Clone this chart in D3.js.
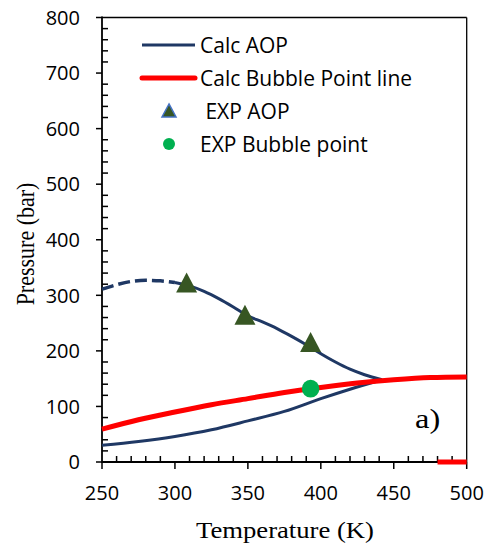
<!DOCTYPE html>
<html><head><meta charset="utf-8">
<script src="https://cdn.jsdelivr.net/npm/d3@7"></script>
<style>body{margin:0;background:#fff}svg{display:block}</style>
</head><body><svg id="c" width="486" height="549"></svg>
<script>
// Data
const aopUpperT = [250,260,270,280,290,300,310,320,330,340,350,360,370,380,390,400,410,420,430,442];
const aopUpperP = [311,319,325,327,326,323,317,307,294,279,263,252,240,226,211,195,180,167,157,148];
const aopLowerT = [250,275,300,325,350,375,400,420,442];
const aopLowerP = [30,37,46,58,74,91,114,131,148];
const bubbleT = [250,275,300,325,350,375,400,425,450,475,500];
const bubbleP = [59,76,90,103,114,125,134,142,148,152,153];
const bubbleZeroT = [480,500];
const bubbleZeroP = [0,0];
const expAopT = [308,348,393];
const expAopP = [320,262,213];
const expBubbleT = [393];
const expBubbleP = [132];
const xTicks = [250,300,350,400,450,500];
const yTicks = [0,100,200,300,400,500,600,700,800];
const legendLabels = ["Calc AOP","Calc Bubble Point line"," EXP AOP","EXP Bubble point"];
const dashSplitT = 300;

const svg = d3.select("#c");
const x = d3.scaleLinear().domain([250,500]).range([102,466.7]);
const y = d3.scaleLinear().domain([0,800]).range([462,17.5]);
const navy = "#1F3864", red = "#FF0000", dgreen = "#375623", green = "#00B050";
const sansFont = "'Open Sans', sans-serif";
const serifFont = "'Liberation Serif', 'Times New Roman', serif";

const zip = (a,b) => a.map((v,i)=>[v,b[i]]);
const line = d3.line().x(d=>x(d[0])).y(d=>y(d[1])).curve(d3.curveMonotoneX);

// frame top and right
svg.append("line").attr("x1",x(250)).attr("x2",x(500)).attr("y1",y(800)).attr("y2",y(800)).attr("stroke","#000").attr("stroke-width",1.3);
svg.append("line").attr("x1",x(500)).attr("x2",x(500)).attr("y1",y(800)).attr("y2",y(0)).attr("stroke","#000").attr("stroke-width",1.3);

// Axes
const yMinor = d3.range(0,801,20).filter(v=>v%100!==0);
const xMinor = d3.range(250,501,10).filter(v=>v%50!==0);
const gy = svg.append("g");
gy.append("line").attr("x1",x(250)).attr("x2",x(250)).attr("y1",y(800)-1).attr("y2",y(0)+1).attr("stroke","#000").attr("stroke-width",1.8);
gy.selectAll(".maj").data(yTicks).join("line").attr("x1",x(250)-6).attr("x2",x(250)).attr("y1",d=>y(d)).attr("y2",d=>y(d)).attr("stroke","#000").attr("stroke-width",1.5);
gy.selectAll(".min").data(yMinor).join("line").attr("class","min").attr("x1",x(250)).attr("x2",x(250)+6).attr("y1",d=>y(d)).attr("y2",d=>y(d)).attr("stroke","#000").attr("stroke-width",1.5);
gy.selectAll("text").data(yTicks).join("text").attr("x",80).attr("y",d=>y(d)).attr("dy","0.36em")
  .attr("text-anchor","end").attr("font-family",sansFont).attr("font-size",20).attr("fill","#000").text(d=>d);

const gx = svg.append("g");
gx.append("line").attr("x1",x(250)).attr("x2",x(500)).attr("y1",y(0)).attr("y2",y(0)).attr("stroke","#000").attr("stroke-width",1.8);
gx.selectAll(".maj").data(xTicks).join("line").attr("class","maj").attr("x1",d=>x(d)).attr("x2",d=>x(d)).attr("y1",y(0)).attr("y2",y(0)+7).attr("stroke","#000").attr("stroke-width",1.5);
gx.selectAll(".min").data(xMinor).join("line").attr("class","min").attr("x1",d=>x(d)).attr("x2",d=>x(d)).attr("y1",y(0)).attr("y2",y(0)-6).attr("stroke","#000").attr("stroke-width",1.5);
gx.selectAll("text").data(xTicks).join("text").attr("x",d=>x(d)).attr("y",500)
  .attr("text-anchor","middle").attr("font-family",sansFont).attr("font-size",20).attr("fill","#000").text(d=>d);

// Axis titles
svg.append("text").attr("transform","translate(285,538) scale(1.16,1)").attr("text-anchor","middle")
  .attr("font-family",serifFont).attr("font-size",23).attr("fill","#000").text("Temperature (K)");
svg.append("text").attr("transform","translate(34,244) scale(1.12,1) rotate(-90)").attr("text-anchor","middle")
  .attr("font-family",serifFont).attr("font-size",22).attr("fill","#000").text("Pressure (bar)");

// Curves
const upper = zip(aopUpperT, aopUpperP);
svg.append("path").attr("d",line(upper.filter(d=>d[0]<=dashSplitT))).attr("fill","none").attr("stroke",navy)
  .attr("stroke-width",3.5).attr("stroke-dasharray","12,5");
svg.append("path").attr("d",line(upper.filter(d=>d[0]>=dashSplitT))).attr("fill","none").attr("stroke",navy).attr("stroke-width",3);
svg.append("path").attr("d",line(zip(aopLowerT,aopLowerP))).attr("fill","none").attr("stroke",navy).attr("stroke-width",3);
svg.append("path").attr("d",line(zip(bubbleT,bubbleP))).attr("fill","none").attr("stroke",red).attr("stroke-width",5);
svg.append("path").attr("d",d3.line().x(d=>x(d[0])).y(d=>y(d[1]))(zip(bubbleZeroT,bubbleZeroP))).attr("fill","none").attr("stroke",red).attr("stroke-width",5);

// Markers
const tri = (w,h) => `M0,${-h*0.58}L${w/2},${h*0.42}L${-w/2},${h*0.42}Z`;
svg.selectAll(".tri").data(zip(expAopT,expAopP)).join("path").attr("class","tri")
  .attr("transform",d=>`translate(${x(d[0])},${y(d[1])})`).attr("d",tri(21,20)).attr("fill",dgreen);
svg.selectAll(".dot").data(zip(expBubbleT,expBubbleP)).join("circle").attr("class","dot")
  .attr("cx",d=>x(d[0])).attr("cy",d=>y(d[1])).attr("r",8.8).attr("fill",green);

// a) label
svg.append("text").attr("transform","translate(415,428) scale(1.2,1)").attr("font-family",serifFont)
  .attr("font-size",27).attr("fill","#000").text("a)");

// Legend
const ly = [45,78,111.5,144];
const lg = svg.append("g");
lg.append("line").attr("x1",142).attr("x2",195).attr("y1",ly[0]).attr("y2",ly[0]).attr("stroke",navy).attr("stroke-width",3);
lg.append("line").attr("x1",142).attr("x2",195).attr("y1",ly[1]).attr("y2",ly[1]).attr("stroke",red).attr("stroke-width",5).attr("stroke-linecap","round");
lg.append("path").attr("transform",`translate(169,${ly[2]})`).attr("d",tri(14,13)).attr("fill",dgreen).attr("stroke","#4472C4").attr("stroke-width",1.5);
lg.append("circle").attr("cx",169).attr("cy",ly[3]).attr("r",6).attr("fill",green);
lg.selectAll("text").data(legendLabels).join("text").attr("x",200).attr("y",(d,i)=>ly[i]).attr("dy","0.36em")
  .attr("font-family",sansFont).attr("font-size",21).attr("fill","#000").attr("xml:space","preserve").style("white-space","pre").text(d=>d);
</script></body></html>
